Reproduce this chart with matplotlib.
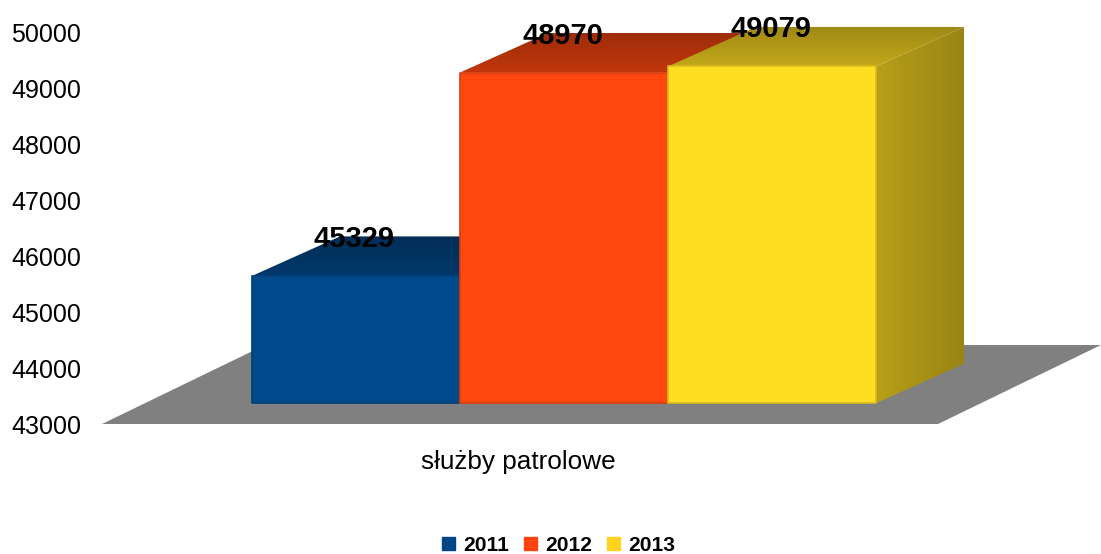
import numpy as np
import matplotlib
matplotlib.use('Agg')
import matplotlib.pyplot as plt
from matplotlib.colors import to_rgb, LinearSegmentedColormap
from matplotlib.patches import Patch, Polygon

plt.rcParams['font.family'] = ['Liberation Sans', 'DejaVu Sans']

#%% data

category = ['służby patrolowe']
years = ['2011', '2012', '2013']
values = [45329, 48970, 49079]
colors = ['#004586', '#ff420e', '#ffd320']
bar_colors = ['#004a8c', '#ff480f', '#ffdd22']
yticks = [43000, 44000, 45000, 46000, 47000, 48000, 49000, 50000]

#%% layout

W, H = 1101, 554
ax_l, ax_r, ax_t, ax_b = 102, 938, 33, 424    # plot area, pixels
px_x = 1 / (ax_r - ax_l)                      # x units per pixel
px_y = 7000 / (ax_b - ax_t)                   # y units per pixel

bar_w = 208 * px_x
depth_x = 88 * px_x
depth_y = 39.5 * px_y
front_x = 44 * px_x     # front of bars sits inside the floor
front_y = 18 * px_y
floor_dx = 163 * px_x
floor_dy = 79 * px_y
base = 43050


def shaded(ax, pts, col, f0, f1, vertical, z):
    # polygon filled with a darkening gradient
    rgb = np.array(to_rgb(col))
    cmap = LinearSegmentedColormap.from_list('s', [rgb * f0, rgb * f1])
    pts = np.array(pts)
    grad = np.linspace(0, 1, 64)
    grad = grad.reshape(-1, 1) if vertical else grad.reshape(1, -1)
    poly = Polygon(pts, closed=True, fc='none', ec='none', transform=ax.transData, clip_on=False)
    ax.add_patch(poly)
    im = ax.imshow(grad, cmap=cmap, origin='lower', aspect='auto', zorder=z,
                   extent=[pts[:, 0].min(), pts[:, 0].max(), pts[:, 1].min(), pts[:, 1].max()])
    im.set_clip_box(fig.bbox)
    im.set_clip_path(poly)


#%% plot

fig = plt.figure(figsize=(W / 100, H / 100), dpi=100)
ax = fig.add_axes([ax_l / W, 1 - ax_b / H, (ax_r - ax_l) / W, (ax_b - ax_t) / H])

# floor
ax.add_patch(Polygon([(-0.5, 43000), (0.5, 43000),
                      (0.5 + floor_dx, 43000 + floor_dy), (-0.5 + floor_dx, 43000 + floor_dy)],
                     closed=True, fc='#808080', ec='none', zorder=1, clip_on=False))

for i, (val, col) in enumerate(zip(values, bar_colors)):
    left = (i - 1.5) * bar_w + front_x
    right = left + bar_w
    top = val + front_y
    bottom = base + front_y
    z = 2 + i * 3

    # side
    shaded(ax, [(right, bottom), (right + depth_x, bottom + depth_y),
                (right + depth_x, top + depth_y), (right, top)],
           col, 0.72, 0.6, False, z)
    # top
    shaded(ax, [(left, top), (right, top), (right + depth_x, top + depth_y),
                (left + depth_x, top + depth_y)],
           col, 0.76, 0.62, True, z + 1)
    # front
    ax.bar(left + bar_w / 2, val - base, bar_w, bottom=bottom, color=col,
           edgecolor=np.array(to_rgb(col)) * 0.85, linewidth=1.2, joinstyle='round',
           zorder=z + 2, clip_on=False)

for i, val in enumerate(values):
    left = (i - 1.5) * bar_w + front_x
    ax.text(left + bar_w / 2 - 1.5 * px_x, val + front_y + depth_y - 2.5 * px_y, str(val),
            ha='center', va='center', fontsize=21, fontweight='bold', color='black',
            zorder=20, clip_on=False)

ax.set_xlim(-0.5, 0.5)
ax.set_ylim(43000, 50000)
ax.set_xticks([-2 * px_x])
ax.set_xticklabels(category, fontsize=18.8)
ax.set_yticks(yticks)
ax.tick_params(axis='y', length=0, pad=15, labelsize=18)
ax.tick_params(axis='x', length=0, pad=18.5)
for s in ax.spines.values():
    s.set_visible(False)
ax.patch.set_visible(False)

handles = [Patch(color=c, label=y) for c, y in zip(colors, years)]
fig.legend(handles=handles, loc='center', bbox_to_anchor=(558.5 / W, 1 - 545.5 / H), ncol=3,
           frameon=False, prop={'size': 15.1, 'weight': 'bold'}, handlelength=0.62, handleheight=0.62,
           handletextpad=0.38, columnspacing=0.72, borderpad=0, borderaxespad=0)

plt.savefig('out.png', dpi=100)
